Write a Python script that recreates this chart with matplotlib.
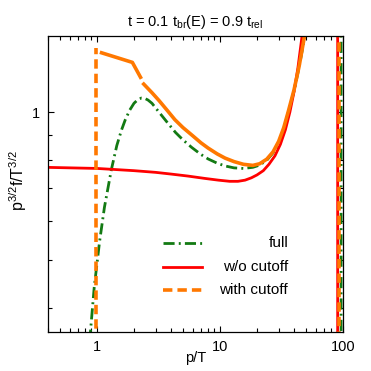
import matplotlib
matplotlib.use("Agg")
import matplotlib.pyplot as plt
from matplotlib.ticker import LogLocator, NullFormatter, FixedLocator, FixedFormatter

plt.rcParams["font.family"] = ["Liberation Sans", "DejaVu Sans"]
plt.rcParams["mathtext.fontset"] = "custom"
plt.rcParams["mathtext.rm"] = "Liberation Sans"
plt.rcParams["mathtext.it"] = "Liberation Sans"

# ── data (p/T, p^{3/2} f / T^{3/2}) ──────────────────────────────────────────
full_x = [0.854, 0.885, 0.95, 1.05, 1.15, 1.31, 1.45, 1.58, 1.70, 1.85, 2.0,
          2.15, 2.3, 2.45, 2.6, 2.8, 3.16, 3.7, 4.35, 5.0, 5.87, 7.0, 8.0, 9.5,
          11.0, 13.0, 15.5, 18.5, 21.0, 24.0, 27.0, 30.0, 33.0, 36.0, 40.0,
          44.0, 48.0, 52.0, 56.0, 65.0, 96.5, 96.5]
full_y = [0.343, 0.357, 0.44, 0.545, 0.64, 0.764, 0.855, 0.918, 0.965, 1.01,
          1.042, 1.06, 1.068, 1.066, 1.058, 1.042, 1.003, 0.955, 0.909, 0.878,
          0.848, 0.82, 0.803, 0.787, 0.777, 0.77, 0.768, 0.772, 0.78, 0.798,
          0.826, 0.866, 0.925, 1.0, 1.105, 1.235, 1.39, 1.58, 1.83, 2.6, 20.0,
          1e-3]

nocut_x = [0.38, 1.0, 2.0, 3.0, 4.0, 5.5, 7.5, 9.7, 12.0, 14.0, 16.0, 18.0,
           20.0, 22.5, 25.0, 28.0, 31.0, 34.0, 37.0, 40.0, 43.0, 46.0, 50.0,
           60.0, 90.5, 90.5]
nocut_y = [0.772, 0.768, 0.760, 0.754, 0.748, 0.741, 0.733, 0.727, 0.723,
           0.723, 0.727, 0.735, 0.745, 0.76, 0.783, 0.815, 0.86, 0.92, 1.0,
           1.1, 1.23, 1.40, 1.65, 2.4, 20.0, 1e-3]

cut_x = [0.99, 0.99, 1.09, 1.94, 2.26, 2.4, 2.8, 3.2, 3.7, 4.3, 5.0, 6.0, 7.0,
         8.0, 9.5, 11.0, 13.0, 15.5, 18.5, 21.0, 24.0, 27.0, 30.0, 33.0, 36.0,
         40.0, 44.0, 48.0, 52.0, 56.0, 65.0, 92.5, 92.5]
cut_y = [1e-3, 1.35, 1.32, 1.262, 1.177, 1.14, 1.095, 1.055, 1.01, 0.965,
         0.93, 0.895, 0.866, 0.845, 0.822, 0.806, 0.793, 0.783, 0.779, 0.785,
         0.802, 0.83, 0.872, 0.93, 1.005, 1.11, 1.24, 1.40, 1.6, 1.85, 2.6,
         20.0, 1e-3]

C_FULL = "#137a13"
C_NOCUT = "#ff0000"
C_CUT = "#ff7800"

fig = plt.figure(figsize=(3.71, 3.71), dpi=100)
ax = fig.add_axes([48 / 371, 39 / 371, 295 / 371, 296 / 371])

# full : dash-dot
ax.plot(full_x, full_y, color=C_FULL, lw=2.0, dashes=(4.0, 1.5, 0.7, 1.5))
# w/o cutoff : solid
ax.plot(nocut_x, nocut_y, color=C_NOCUT, lw=2.0)
# with cutoff : dashed drops, solid curve with one gap
ax.plot(cut_x[:2], cut_y[:2], color=C_CUT, lw=2.6, dashes=(2.6, 1.4))
ax.plot(cut_x[2:5], cut_y[2:5], color=C_CUT, lw=2.6)
ax.plot(cut_x[5:-2], cut_y[5:-2], color=C_CUT, lw=2.6)
ax.plot(cut_x[-3:], cut_y[-3:], color=C_CUT, lw=2.6, dashes=(2.6, 1.4))

ax.set_xscale("log")
ax.set_yscale("log")
ax.set_xlim(0.4, 100)
ax.set_ylim(0.357, 1.428)

ax.xaxis.set_major_locator(FixedLocator([1, 10, 100]))
ax.xaxis.set_major_formatter(FixedFormatter(["1", "10", "100"]))
ax.xaxis.set_minor_locator(LogLocator(base=10, subs=range(2, 10)))
ax.xaxis.set_minor_formatter(NullFormatter())
ax.yaxis.set_major_locator(FixedLocator([1]))
ax.yaxis.set_major_formatter(FixedFormatter(["1"]))
ax.yaxis.set_minor_locator(LogLocator(base=10, subs=range(2, 10)))
ax.yaxis.set_minor_formatter(NullFormatter())

ax.tick_params(which="both", direction="in", top=True, right=True,
               labelsize=10.5, width=0.8)
ax.tick_params(which="major", length=4.5, pad=6)
ax.tick_params(which="minor", length=2.8)
for s in ax.spines.values():
    s.set_linewidth(0.9)

ax.set_xlabel("p/T", fontsize=10.5)
ax.xaxis.set_label_coords(0.5, -0.065)
ax.set_ylabel(r"p$^{3/2}$f/T$^{3/2}$", fontsize=11.5)
ax.yaxis.set_label_coords(-0.065, 0.51)
ax.set_title(r"t = 0.1 t$_{\rm br}$(E) = 0.9 t$_{\rm rel}$", fontsize=10.5, pad=7)

# legend (text right-aligned as in the original)
entries = [("full", C_FULL, 2.0, (4.0, 1.5, 0.7, 1.5)),
           ("w/o cutoff", C_NOCUT, 2.0, None),
           ("with cutoff", C_CUT, 2.6, (2.6, 1.4))]
for k, (lab, col, lw, dsh) in enumerate(entries):
    yy = 0.30 - 0.079 * k
    kw = {} if dsh is None else {"dashes": dsh}
    ax.plot([0.39, 0.522], [yy, yy], transform=ax.transAxes, color=col, lw=lw, **kw)
    ax.text(0.814, yy, lab, transform=ax.transAxes, ha="right", va="center",
            fontsize=11)

fig.savefig("out.png", dpi=100)
